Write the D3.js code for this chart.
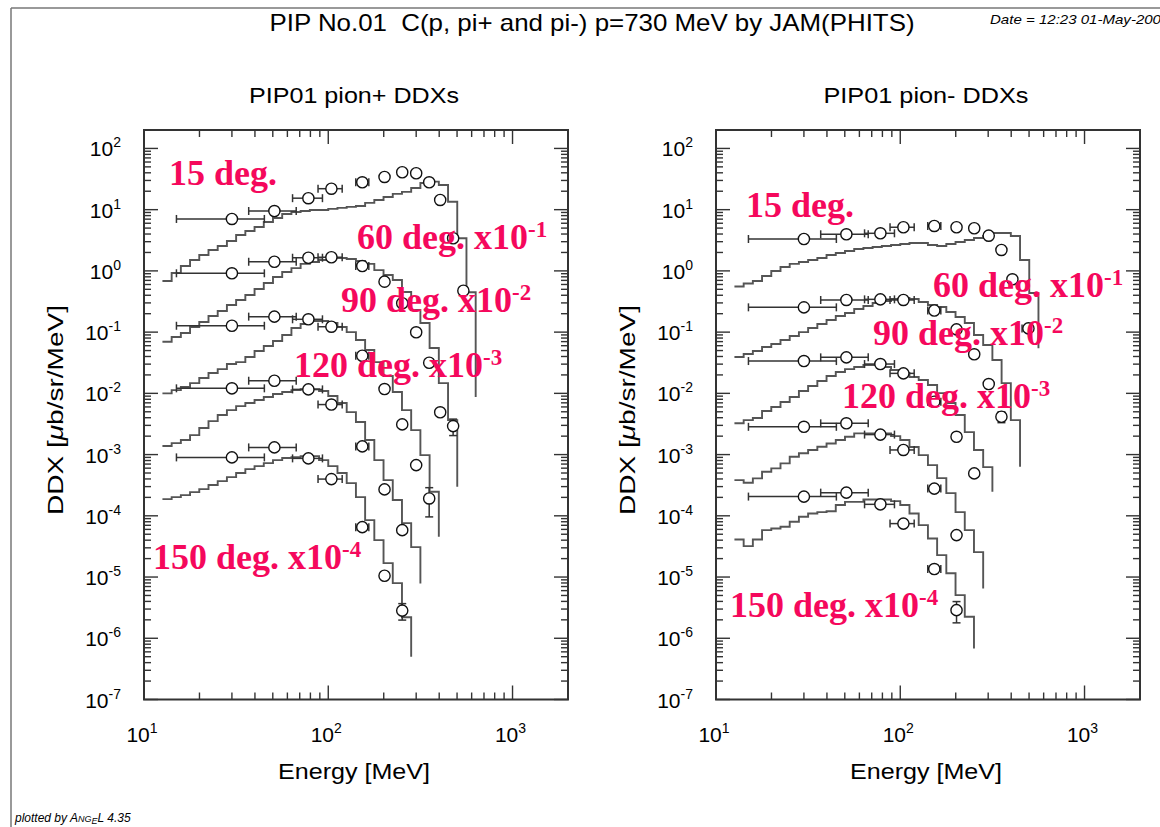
<!DOCTYPE html>
<html><head><meta charset="utf-8">
<script src="https://cdn.jsdelivr.net/npm/d3@7"></script>
<style>body{margin:0;background:#fff;} svg{display:block;}</style>
</head><body>
<svg id="chart" width="1160" height="827"></svg>
<script>
// ---------------- DATA ----------------
// histogram bin edges (MeV) of the JAM(PHITS) calculation
const binEdgesMeV = [12.59, 14.13, 15.85, 17.78, 19.95, 22.39, 25.12, 28.18, 31.62, 35.48,
  39.81, 44.67, 50.12, 56.23, 63.10, 70.79, 79.43, 89.13, 100, 112.2,
  125.9, 141.3, 158.5, 177.8, 199.5, 223.9, 251.2, 281.8, 316.2, 354.8,
  398.1, 446.7, 501.2, 562.3, 631.0];

const angleLabels = ["15 deg.", "60 deg.", "90 deg.", "120 deg.", "150 deg."];
const scaleExponents = ["", "-1", "-2", "-3", "-4"];

// pi+ calculation (values as plotted, i.e. already multiplied by the scale factor)
const calcPip15 = [0.684, 0.924, 1.20, 1.51, 1.82, 2.20, 2.55, 3.08, 3.86, 4.49, 5.21, 6.29, 7.31, 8.51, 9.17, 9.52, 9.89, 9.89, 10.3, 10.7, 11.1, 11.5, 12.9, 14.4, 16.1, 18.1, 19.5, 22.6, 27.3, 28.7, 25.3, 13.5, 3.41, 0.447];
const calcPip60 = [0.0697, 0.0832, 0.0966, 0.121, 0.146, 0.183, 0.221, 0.277, 0.335, 0.404, 0.506, 0.634, 0.794, 0.959, 1.11, 1.30, 1.40, 1.51, 1.62, 1.62, 1.56, 1.45, 1.30, 1.03, 0.857, 0.710, 0.452, 0.230, 0.141, 0.0550, 0.0147, 0.00366];
const calcPip90 = [0.0100, 0.0113, 0.0127, 0.0147, 0.0178, 0.0215, 0.0249, 0.0301, 0.0324, 0.0392, 0.0491, 0.0593, 0.0716, 0.0897, 0.117, 0.136, 0.152, 0.152, 0.141, 0.121, 0.100, 0.0743, 0.0510, 0.0324, 0.0192, 0.0105, 0.00533, 0.00251, 0.00098, 0.000247];
const calcPip120 = [0.00138, 0.00154, 0.00173, 0.00208, 0.00271, 0.00352, 0.00442, 0.00533, 0.00619, 0.00695, 0.00778, 0.00871, 0.00975, 0.0105, 0.0113, 0.0117, 0.0117, 0.0109, 0.00904, 0.00695, 0.00494, 0.00340, 0.00173, 0.000813, 0.000383, 0.000181, 0.000076, 0.0000308];
const calcPip150 = [1.87e-4, 2.02e-4, 2.18e-4, 2.44e-4, 2.73e-4, 3.18e-4, 3.69e-4, 4.29e-4, 4.99e-4, 5.79e-4, 6.49e-4, 7.26e-4, 8.13e-4, 8.77e-4, 9.1e-4, 9.44e-4, 9.44e-4, 8.13e-4, 6.49e-4, 4.99e-4, 3.42e-4, 2.02e-4, 8.51e-5, 4.01e-5, 1.69e-5, 7.94e-6, 2.21e-6];
const calcPipTail = [0.0087, 2.98e-4, 4.54e-5, 7.85e-6, 4.97e-7];

// pi- calculation
const calcPim15 = [0.556, 0.622, 0.684, 0.826, 0.996, 1.16, 1.30, 1.40, 1.51, 1.62, 1.82, 1.96, 2.11, 2.28, 2.37, 2.46, 2.55, 2.65, 2.75, 2.86, 2.86, 2.65, 2.55, 2.75, 2.97, 3.20, 3.45, 3.72, 4.16, 4.16, 3.72, 1.51, 0.436];
const calcPim60 = [0.0392, 0.0439, 0.0491, 0.0571, 0.0640, 0.0743, 0.0863, 0.100, 0.117, 0.136, 0.158, 0.183, 0.205, 0.238, 0.267, 0.299, 0.322, 0.347, 0.361, 0.347, 0.310, 0.277, 0.257, 0.213, 0.177, 0.141, 0.0897, 0.0615, 0.0350, 0.0147, 0.00366];
const calcPim90 = [0.00324, 0.00366, 0.00395, 0.00514, 0.00597, 0.00721, 0.00871, 0.0109, 0.0132, 0.0159, 0.0192, 0.0223, 0.0249, 0.0269, 0.0290, 0.0290, 0.0269, 0.0240, 0.0215, 0.0185, 0.0165, 0.0137, 0.0101, 0.00695, 0.00442, 0.00233, 0.00119, 0.000625];
const calcPim120 = [3.83e-4, 3.46e-4, 4.08e-4, 5.24e-4, 5.96e-4, 7.18e-4, 9.2e-4, 1.05e-3, 1.19e-3, 1.34e-3, 1.52e-3, 1.73e-3, 1.95e-3, 2.22e-3, 2.22e-3, 2.22e-3, 2.22e-3, 2.0e-3, 1.73e-3, 1.33e-3, 9.8e-4, 6.73e-4, 4.13e-4, 2.35e-4, 1.15e-4, 5.83e-5, 2.55e-5];
const calcPim150 = [4.11e-5, 3.20e-5, 4.11e-5, 5.83e-5, 6.22e-5, 6.61e-5, 7.98e-5, 9.64e-5, 1.09e-4, 1.15e-4, 1.19e-4, 1.50e-4, 1.69e-4, 1.69e-4, 1.85e-4, 1.85e-4, 1.85e-4, 1.74e-4, 1.50e-4, 1.09e-4, 7.05e-5, 4.27e-5, 2.28e-5, 1.15e-5, 5.06e-6, 2.24e-6];
const calcPimTail = [0.0543, 6.32e-4, 2.47e-4, 6.52e-6, 6.81e-7];

// experimental data (energy bins in MeV)
const expEnergyPip = [30, 51, 78, 104, 153, 202, 252, 300, 353, 405, 476, 541];
const expEnergyPim = [30, 51, 78, 104, 153, 202, 252, 302, 354, 406, 496];
const expEnergyLo = [15, 37, 64, 88, 141, 194, 242, 290, 341, 391, 458, 522];
const expEnergyHi = [45, 67, 93, 119, 166, 210, 262, 314, 367, 421, 494, 560];

const expPip15 = [7.05, 9.5, 15.4, 22, 28, 34.2, 40.8, 39.3, 28, 14.4, 3.41, 0.474];
const expPip60 = [0.914, 1.41, 1.64, 1.67, 1.20, 0.667, 0.296, 0.0993, 0.0316, 0.0049, 0.00292];
const expPip90 = [0.127, 0.179, 0.162, 0.1225, 0.0411, 0.01175, 0.00311, 6.73e-4, 1.92e-4];
const expPip120 = [0.01208, 0.01607, 0.01161, 0.00656, 0.00136, 2.7e-4, 5.83e-5];
const expPip150 = [9.0e-4, 1.31e-3, 8.67e-4, 3.98e-4, 6.53e-5, 1.05e-5, 2.83e-6];
const expPipRelErr60 = [0, 0, 0, 0, 0, 0, 0, 0, 0, 0, 0.3];
const expPipRelErr90 = [0, 0, 0, 0, 0, 0, 0, 0, 0.5];
const expPipRelErr150 = [0, 0, 0, 0, 0, 0, 0.3];

const expPim15 = [3.32, 3.96, 4.11, 5.16, 5.42, 5.16, 4.97, 3.76, 2.20, 0.729, 0.115];
const expPim60 = [0.254, 0.335, 0.343, 0.335, 0.2254, 0.111, 0.0434, 0.0142, 0.00415];
const expPim90 = [0.0337, 0.0387, 0.0301, 0.0212, 0.00729, 0.00195, 4.93e-4];
const expPim120 = [2.84e-3, 3.24e-3, 2.12e-3, 1.19e-3, 2.78e-4, 4.84e-5];
const expPim150 = [2.06e-4, 2.39e-4, 1.54e-4, 7.46e-5, 1.35e-5, 2.88e-6];
const expPimRelErr60 = [0, 0, 0, 0, 0, 0, 0, 0, 0.2];
const expPimRelErr150 = [0, 0, 0, 0, 0, 0.38];

const xTickExponents = [1, 2, 3];
const yTickExponents = [-7, -6, -5, -4, -3, -2, -1, 0, 1, 2];

// ---------------- LAYOUT ----------------
const SANS = "'Liberation Sans', Arial, Helvetica, sans-serif";
const SERIF = "'Liberation Serif', 'Times New Roman', serif";
const RED = "#f5085c";
const yTop = 130, yBot = 699.5;

const panels = [
  { left: 144, right: 568, title: "PIP01 pion+ DDXs", titleLen: 210,
    calc: [calcPip15, calcPip60, calcPip90, calcPip120, calcPip150], tail: calcPipTail,
    expE: expEnergyPip,
    exp: [expPip15, expPip60, expPip90, expPip120, expPip150],
    err: [[], expPipRelErr60, expPipRelErr90, [], expPipRelErr150],
    labelPos: [[169, 185], [357, 249], [341, 312], [294, 377], [153, 569]] },
  { left: 716, right: 1140, title: "PIP01 pion- DDXs", titleLen: 205,
    calc: [calcPim15, calcPim60, calcPim90, calcPim120, calcPim150], tail: calcPimTail,
    expE: expEnergyPim,
    exp: [expPim15, expPim60, expPim90, expPim120, expPim150],
    err: [[], expPimRelErr60, [], [], expPimRelErr150],
    labelPos: [[746, 217], [933, 297], [873, 345], [842, 408], [730, 617]] }
];

const svg = d3.select("#chart");
svg.append("rect").attr("width", 1160).attr("height", 827).attr("fill", "#fff");

// outer frame
svg.append("line").attr("x1", 11).attr("x2", 1160).attr("y1", 8).attr("y2", 8).attr("stroke", "#777").attr("stroke-width", 1.5);
svg.append("line").attr("x1", 11).attr("x2", 11).attr("y1", 8).attr("y2", 827).attr("stroke", "#777").attr("stroke-width", 1.5);

svg.append("text").attr("x", 592).attr("y", 31).attr("text-anchor", "middle")
  .attr("font-family", SANS).attr("font-size", 24).attr("textLength", 645).attr("lengthAdjust", "spacingAndGlyphs")
  .text("PIP No.01\u00a0\u00a0C(p, pi+ and pi-) p=730 MeV by JAM(PHITS)");
svg.append("text").attr("x", 990).attr("y", 24).attr("font-family", SANS).attr("font-style", "italic")
  .attr("font-size", 13).attr("textLength", 171).attr("lengthAdjust", "spacingAndGlyphs")
  .text("Date = 12:23 01-May-200");

const pb = svg.append("text").attr("x", 15).attr("y", 822).attr("font-family", SANS).attr("font-style", "italic").attr("font-size", 12);
pb.append("tspan").text("plotted by A");
pb.append("tspan").attr("font-size", 9).text("NG");
pb.append("tspan").attr("font-size", 9).attr("dy", 2).text("E");
pb.append("tspan").attr("dy", -2).text("L 4.35");

panels.forEach(p => {
  const x = d3.scaleLog().domain([10, 2000]).range([p.left, p.right]);
  const y = d3.scaleLog().domain([1e-7, 200]).range([yBot, yTop]);
  const g = svg.append("g");

  // histograms
  p.calc.forEach((vals, i) => {
    let d = `M${x(binEdgesMeV[0])},${y(vals[0])}`;
    vals.forEach((v, k) => {
      if (k > 0) d += `V${y(v)}`;
      d += `H${x(binEdgesMeV[k + 1])}`;
    });
    d += `V${y(p.tail[i])}`;
    g.append("path").attr("d", d).attr("fill", "none").attr("stroke", "#555").attr("stroke-width", 1.9);
  });

  // experimental points
  p.exp.forEach((vals, i) => {
    const errs = p.err[i];
    vals.forEach((v, k) => {
      const cx = x(p.expE[k]), cy = y(v);
      const xl = x(expEnergyLo[k]), xh = x(expEnergyHi[k]);
      g.append("line").attr("x1", xl).attr("x2", xh).attr("y1", cy).attr("y2", cy).attr("stroke", "#333").attr("stroke-width", 1.5);
      [xl, xh].forEach(xx => g.append("line").attr("x1", xx).attr("x2", xx).attr("y1", cy - 4).attr("y2", cy + 4).attr("stroke", "#333").attr("stroke-width", 1.5));
      const e = errs[k] || 0;
      if (e > 0) {
        const yh = y(v * (1 + e)), yl = y(v * (1 - e));
        g.append("line").attr("x1", cx).attr("x2", cx).attr("y1", yh).attr("y2", yl).attr("stroke", "#333").attr("stroke-width", 1.5);
        [yh, yl].forEach(yy => g.append("line").attr("x1", cx - 4).attr("x2", cx + 4).attr("y1", yy).attr("y2", yy).attr("stroke", "#333").attr("stroke-width", 1.5));
      }
    });
    vals.forEach((v, k) => {
      g.append("circle").attr("cx", x(p.expE[k])).attr("cy", y(v)).attr("r", 5.6)
        .attr("fill", "#fff").attr("stroke", "#111").attr("stroke-width", 1.4);
    });
  });

  // frame & ticks
  const ax = svg.append("g").attr("stroke", "#333").attr("stroke-width", 1.4);
  ax.append("rect").attr("x", p.left).attr("y", yTop).attr("width", p.right - p.left).attr("height", yBot - yTop)
    .attr("fill", "none").attr("stroke-width", 2);
  for (let dec = 1; dec <= 3; dec++) {
    for (let m = 1; m <= 9; m++) {
      const v = m * Math.pow(10, dec);
      if (v >= 2000) continue;
      const len = m === 1 ? 14 : 7, xx = x(v);
      ax.append("line").attr("x1", xx).attr("x2", xx).attr("y1", yBot).attr("y2", yBot - len);
      ax.append("line").attr("x1", xx).attr("x2", xx).attr("y1", yTop).attr("y2", yTop + len);
    }
  }
  for (let dec = -7; dec <= 2; dec++) {
    for (let m = 1; m <= 9; m++) {
      const v = m * Math.pow(10, dec);
      if (v > 200) continue;
      const len = m === 1 ? 14 : 7, yy = y(v);
      ax.append("line").attr("x1", p.left).attr("x2", p.left + len).attr("y1", yy).attr("y2", yy);
      ax.append("line").attr("x1", p.right).attr("x2", p.right - len).attr("y1", yy).attr("y2", yy);
    }
  }

  // tick labels
  xTickExponents.forEach(e => {
    const t = svg.append("text").attr("x", x(Math.pow(10, e)) - 2).attr("y", 742).attr("text-anchor", "middle")
      .attr("font-family", SANS).attr("font-size", 21);
    t.append("tspan").text("10");
    t.append("tspan").attr("dy", -9).attr("font-size", 14).text(String(e));
  });
  yTickExponents.forEach(e => {
    const t = svg.append("text").attr("x", p.left - 23).attr("y", y(Math.pow(10, e)) + 8).attr("text-anchor", "end")
      .attr("font-family", SANS).attr("font-size", 21);
    t.append("tspan").text("10");
    t.append("tspan").attr("dy", -9).attr("font-size", 14).text(e < 0 ? "-" + (-e) : String(e));
  });

  const cx = (p.left + p.right) / 2 - 2;
  svg.append("text").attr("x", cx).attr("y", 103).attr("text-anchor", "middle").attr("font-family", SANS)
    .attr("font-size", 22).attr("textLength", p.titleLen).attr("lengthAdjust", "spacingAndGlyphs").text(p.title);
  svg.append("text").attr("x", cx).attr("y", 779).attr("text-anchor", "middle").attr("font-family", SANS)
    .attr("font-size", 22).attr("textLength", 152).attr("lengthAdjust", "spacingAndGlyphs").text("Energy [MeV]");
  const yl = svg.append("text").attr("transform", `translate(${p.left - 81},410) rotate(-90)`).attr("text-anchor", "middle")
    .attr("font-family", SANS).attr("font-size", 22).attr("textLength", 210).attr("lengthAdjust", "spacingAndGlyphs");
  yl.append("tspan").text("DDX [");
  yl.append("tspan").attr("font-style", "italic").text("\u03bc");
  yl.append("tspan").text("b/sr/MeV]");

  // red labels
  angleLabels.forEach((lab, i) => {
    const [lx, ly] = p.labelPos[i];
    const t = svg.append("text").attr("x", lx).attr("y", ly).attr("font-family", SERIF).attr("font-weight", "bold")
      .attr("font-size", 36).attr("fill", RED);
    t.append("tspan").text(lab);
    if (scaleExponents[i]) {
      t.append("tspan").text(" x10");
      t.append("tspan").attr("dy", -12).attr("font-size", 23).text(scaleExponents[i]);
    }
  });
});
</script>
</body></html>
